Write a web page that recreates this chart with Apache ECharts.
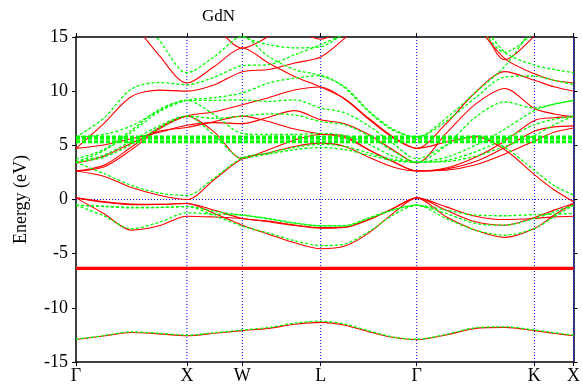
<!DOCTYPE html>
<html>
<head>
<meta charset="utf-8">
<script src="https://cdn.jsdelivr.net/npm/echarts@6/dist/echarts.min.js"></script>
<style>
html,body{margin:0;padding:0;background:#fff;}
#chart{width:583px;height:391px;}
</style>
</head>
<body>
<div id="chart"></div>
<script>
// high symmetry points (path length) and labels
var kPoints = [0, 1, 1.5, 2.207, 3.073, 4.134, 4.487];
var kLabels = ['Γ', 'X', 'W', 'L', 'Γ', 'K', 'X'];
// sample positions along the path
var kGrid = [0, 0.25, 0.5, 0.75, 1, 1.25, 1.5, 1.736, 1.971, 2.207, 2.424, 2.640, 2.857, 3.073, 3.338, 3.603, 3.868, 4.134, 4.311, 4.487];

// spin up (red) conduction
var up1 = [2.63, 2.15, 1.1, 0.4, 0.0, 1.87, 3.77, 4.3, 4.9, 5.2, 4.9, 3.9, 3.0, 2.63, 2.7, 3.2, 4.2, 5.4, 6.2, 6.6];
var up2 = [2.63, 3.15, 4.85, 6.63, 7.7, 6.2, 3.77, 4.6, 5.5, 6.0, 5.7, 4.6, 3.5, 2.63, 2.8, 3.5, 4.8, 6.3, 6.7, 6.8];
var up3 = [2.63, 3.0, 4.6, 6.5, 7.7, 8.1, 8.75, 9.4, 10.1, 10.38, 9.25, 7.4, 5.7, 4.72, 5.3, 5.8, 4.6, 2.3, 0.9, -0.2];
var up4 = [3.37, 4.0, 5.2, 6.3, 6.65, 7.2, 7.7, 7.2, 6.5, 6.05, 5.85, 4.6, 3.5, 2.63, 2.9, 3.9, 5.4, 7.3, 7.55, 7.65];
var up5 = [4.72, 5.03, 5.6, 6.2, 6.85, 7.1, 7.0, 7.6, 8.2, 7.37, 7.0, 6.0, 4.6, 3.37, 6.1, 8.8, 10.25, 8.4, 7.9, 7.65];
var up6 = [4.72, 7.0, 9.5, 10.1, 10.0, 10.6, 11.8, 12.0, 12.6, 13.15, 14.9, 17.0, 20, 21.5, 19.5, 16.2, 13.0, 11.6, 11.0, 10.75];
var up7 = [22, 19.5, 16.5, 13.3, 10.75, 12.3, 13.98, 12.6, 11.36, 10.38, 9.3, 7.5, 5.8, 4.72, 7.0, 9.9, 11.8, 11.0, 10.4, 10.0];
var up8 = [26, 24, 22, 20, 18, 16.0, 13.98, 15.05, 16.8, 17.5, 19, 21, 22, 23, 21, 17.5, 12.9, 15.1, 17.5, 19];
var up9 = [null, null, null, null, null, null, null, null, 15.9, 14.8, 15.9, null, null, null, null, null, null, null, null, null];
// spin up valence
var upV1 = [0.15, -0.2, -0.43, -0.45, -0.37, -1.3, -2.37, -3.2, -4.0, -4.55, -4.3, -3.1, -1.3, 0.15, -1.6, -2.83, -3.5, -2.68, -1.45, -0.37];
var upV2 = [0.15, -0.25, -0.47, -0.45, -0.37, -1.0, -1.75, -2.0, -2.35, -2.6, -2.55, -1.85, -0.83, 0.15, -0.99, -2.06, -2.37, -1.66, -0.98, -0.37];
var upV3 = [0.15, -1.3, -2.83, -2.43, -1.54, -1.62, -1.75, -2.05, -2.4, -2.65, -2.58, -1.87, -0.85, 0.15, -0.68, -1.54, -1.85, -1.75, -1.6, -1.54];
var upLow = [-12.93, -12.6, -12.27, -12.4, -12.57, -12.35, -12.1, -11.9, -11.52, -11.34, -11.6, -12.2, -12.72, -12.93, -12.5, -11.9, -11.8, -12.1, -12.35, -12.57];
var upF = [-6.3, -6.42];

// spin down (green) conduction
var dn1 = [3.45, 2.4, 1.3, 0.6, 0.37, 2.0, 3.84, 4.3, 4.8, 5.1, 4.9, 4.3, 3.7, 3.45, 3.6, 4.4, 5.6, 6.9, 7.4, 7.7];
var dn2 = [3.45, 3.9, 5.1, 6.6, 7.7, 5.9, 3.84, 4.2, 4.6, 4.8, 4.6, 4.1, 3.6, 3.45, 3.5, 4.0, 4.9, 5.9, 6.9, 7.7];
var dn3 = [3.45, 4.1, 5.4, 6.8, 7.7, 7.5, 7.7, 7.9, 7.8, 7.2, 6.9, 5.9, 4.5, 3.45, 5.0, 7.6, 9.0, 8.45, 8.8, 9.15];
var dn4 = [3.75, 4.6, 6.4, 8.3, 9.15, 7.8, 6.1, 6.0, 6.0, 6.1, 5.9, 5.1, 4.0, 3.45, 3.9, 5.0, 6.5, 8.2, 8.8, 9.15];
var dn5 = [3.45, 4.5, 6.2, 8.1, 9.15, 9.4, 9.83, 10.75, 11.2, 11.43, 10.3, 8.1, 6.4, 5.75, 7.2, 9.4, 11.3, 11.4, 11.0, 10.6];
var dn6 = [5.75, 6.0, 6.8, 8.2, 9.15, 9.15, 9.2, 9.05, 9.2, 8.45, 8.0, 6.8, 5.2, 3.75, 5.0, 5.9, 4.8, 2.7, 1.3, 0.4];
var dn7 = [5.75, 7.5, 10.2, 10.8, 10.6, 11.3, 12.35, 12.45, 13.36, 14.3, 15.4, 17.5, 19.5, 21, 19.5, 17, 13.6, 12.4, 12.0, 11.7];
var dn8 = [23, 21, 17.5, 14.7, 11.7, 13.2, 15.05, 13.2, 12.0, 11.43, 10.4, 8.2, 6.5, 5.75, 7.5, 9.9, 12.3, 16, 18, 19];
var dn9 = [null, null, null, null, null, 16, 15.0, 14.3, 14.0, 14.1, 15.3, null, null, null, 19, 16.5, 13.6, 15.4, 17, null];
// spin down valence
var dnV1 = [-0.53, -0.62, -0.72, -0.72, -0.65, -1.5, -2.45, -3.1, -3.8, -4.25, -4.1, -2.98, -1.45, -0.53, -1.75, -2.83, -3.3, -2.68, -1.6, -0.53];
var dnV2 = [-0.53, -0.65, -0.77, -0.75, -0.65, -1.1, -1.44, -1.8, -2.2, -2.45, -2.46, -1.75, -0.99, -0.53, -1.29, -2.21, -2.37, -1.75, -1.14, -0.53];
var dnV3 = [-0.53, -1.5, -2.7, -2.1, -1.23, -1.35, -1.44, -1.75, -2.15, -2.42, -2.4, -1.7, -0.95, -0.53, -0.98, -1.44, -1.5, -1.4, -1.35, -1.3];
var dnLow = [-12.9, -12.57, -12.22, -12.35, -12.53, -12.3, -12.05, -11.82, -11.42, -11.24, -11.5, -12.12, -12.68, -12.9, -12.45, -11.84, -11.75, -12.05, -12.3, -12.53];
var dnF = [5.27, 5.39, 5.6, 5.72, 5.83];

var serif = 'Liberation Serif';
var kMax = kPoints[kPoints.length - 1];

function pts(vals) {
    var out = [];
    for (var i = 0; i < kGrid.length; i++) {
        if (vals[i] !== null) out.push([kGrid[i], vals[i]]);
    }
    return out;
}

function upLine(vals) {
    return {
        type: 'line', data: pts(vals), smooth: 0.3, symbol: 'none', silent: true, z: 3,
        lineStyle: {color: '#ff0000', width: 1.1}
    };
}
function dnLine(vals) {
    return {
        type: 'line', data: pts(vals), smooth: 0.3, symbol: 'none', silent: true, z: 4,
        lineStyle: {color: '#00ff00', width: 1.3, type: [3, 2]}
    };
}
function flat(e, color, w, dash) {
    return {
        type: 'line', data: [[0, e], [kMax, e]],
        symbol: 'none', silent: true, z: dash ? 4 : 3,
        lineStyle: {color: color, width: w, type: dash ? [4, 2] : 'solid'}
    };
}
function guide(a, b) {
    return {
        type: 'line', data: [a, b], symbol: 'none', silent: true, z: 1,
        lineStyle: {color: '#0000ff', width: 1, type: [1, 2]}
    };
}

var series = [];
// dotted guide lines at the symmetry points and at E = 0
for (var i = 1; i < kPoints.length; i++) series.push(guide([kPoints[i], -15], [kPoints[i], 15]));
series.push(guide([0, 0], [kMax, 0]));

[up1, up2, up3, up4, up5, up6, up7, up8, up9, upV1, upV2, upV3, upLow].forEach(function (b) {
    series.push(upLine(b));
});
upF.forEach(function (e) { series.push(flat(e, '#ff0000', 2, false)); });

[dn1, dn2, dn3, dn4, dn5, dn6, dn7, dn8, dn9, dnV1, dnV2, dnV3, dnLow].forEach(function (b) {
    series.push(dnLine(b));
});
dnF.forEach(function (e) { series.push(flat(e, '#00ff00', 1.6, true)); });

var chart = echarts.init(document.getElementById('chart'));
chart.setOption({
    animation: false,
    backgroundColor: '#fff',
    title: {
        text: 'GdN', left: 197, top: 3,
        textStyle: {fontFamily: serif, fontSize: 17, fontWeight: 'normal', color: '#000'}
    },
    grid: {left: 76, right: 6, top: 37, bottom: 29},
    xAxis: [{
        type: 'value', min: 0, max: kMax, position: 'bottom',
        axisLine: {onZero: false, lineStyle: {color: '#000', width: 1.5}},
        axisTick: {customValues: kPoints, length: 4, lineStyle: {color: '#000'}},
        axisLabel: {
            customValues: kPoints, margin: 5, color: '#000', fontFamily: serif, fontSize: 18,
            formatter: function (v) {
                for (var i = 0; i < kPoints.length; i++) if (Math.abs(kPoints[i] - v) < 1e-6) return kLabels[i];
                return '';
            }
        },
        splitLine: {show: false}
    }, {
        type: 'value', min: 0, max: kMax, position: 'top',
        axisLine: {onZero: false, lineStyle: {color: '#000', width: 1.5}},
        axisTick: {customValues: kPoints, length: 4, lineStyle: {color: '#000'}},
        axisLabel: {show: false},
        splitLine: {show: false}
    }],
    yAxis: [{
        type: 'value', min: -15, max: 15, interval: 5, position: 'left',
        name: 'Energy (eV)', nameLocation: 'middle', nameGap: 46,
        nameTextStyle: {fontFamily: serif, fontSize: 18, color: '#000'},
        axisLine: {show: true, onZero: false, lineStyle: {color: '#000', width: 1.5}},
        axisTick: {show: true, length: 4, lineStyle: {color: '#000'}},
        axisLabel: {margin: 8, color: '#000', fontFamily: serif, fontSize: 18},
        splitLine: {show: false}
    }, {
        type: 'value', min: -15, max: 15, interval: 5, position: 'right',
        axisLine: {show: true, onZero: false, lineStyle: {color: '#000033', width: 1.5}},
        axisTick: {show: true, length: 4, lineStyle: {color: '#000'}},
        axisLabel: {show: false},
        splitLine: {show: false}
    }],
    series: series
});
</script>
</body>
</html>
